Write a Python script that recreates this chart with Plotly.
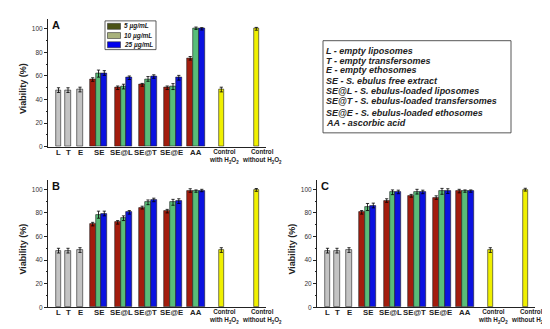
import plotly.graph_objects as go

# ---------------- data ----------------
categories = ["L", "T", "E", "SE", "SE@L", "SE@T", "SE@E", "AA",
              "Control with H2O2", "Control without H2O2"]
concentrations = ["5 µg/mL", "10 µg/mL", "25 µg/mL"]

# empty vesicles (single bars)
empty_cats = ["L", "T", "E"]
empty_A = [48, 48, 48.5]
empty_B = [48, 48, 48.5]
empty_C = [48, 48, 48.5]
empty_err = [2, 2, 2]

# treated groups: rows = SE, SE@L, SE@T, SE@E, AA ; columns = 5, 10, 25 µg/mL
group_cats = ["SE", "SE@L", "SE@T", "SE@E", "AA"]
c5_A = [57, 50, 52.5, 50, 75]
c10_A = [62, 51, 57.5, 51, 100.5]
c25_A = [62.5, 58.5, 59.5, 58.5, 100]
c5_B = [70.5, 72, 84.5, 81.5, 99]
c10_B = [78.5, 75.5, 89, 89, 98.5]
c25_B = [79.5, 80.5, 91, 90, 99]
c5_C = [80.5, 90.5, 94.5, 93, 98.5]
c10_C = [85, 97.5, 98, 98.3, 98.5]
c25_C = [86.3, 97.8, 97.8, 98.5, 98.5]
err5 = [1.5, 1.5, 1.2, 1.5, 1.5]
err10 = [3, 2, 2, 2.5, 1]
err25 = [2, 1.5, 1.5, 2, 1]

control_cats = ["Control with H2O2", "Control without H2O2"]
ctrl_A = [48.5, 100]
ctrl_B = [48.5, 99.5]
ctrl_C = [48.5, 99.7]
ctrl_err = [2, 1.2]

abbrev_lines = [
    "L - empty liposomes",
    "T - empty transfersomes",
    "E - empty ethosomes",
    "SE - S. ebulus free extract",
    "SE@L - S. ebulus-loaded liposomes",
    "SE@T - S. ebulus-loaded transfersomes",
    "SE@E - S. ebulus-loaded ethosomes",
    "AA - ascorbic acid",
]

# ---------------- layout constants ----------------
W, H = 550, 329
FONT = "Arial, Liberation Sans, sans-serif"
pos = {"L": 10.5, "T": 20, "E": 32, "SE": 50.5, "SE@L": 75.5, "SE@T": 100,
       "SE@E": 125, "AA": 148, "Control with H2O2": 173.3, "Control without H2O2": 208.3}
label_pos = dict(pos)
label_pos["SE@L"] = 73.5
label_pos["SE@T"] = 97.5
label_pos["SE@E"] = 123.5
label_pos["Control with H2O2"] = 175.5
label_pos["Control without H2O2"] = 213.5
BW = 5.8
col_gray = "#c3c3c3"
col_red = "#a31d0e"
col_green = "#58bd78"
col_blue = "#0b12e0"
col_yellow = "#f0f000"
leg_colors = ["#4a5216", "#a9b27c", "#0000ee"]


def px_x(x):
    return x / W


def px_y(y):
    return 1 - y / H


panels = [
    dict(name="A", xd=(40, 258), yd=(11.5, 140), vals=(empty_A, c5_A, c10_A, c25_A, ctrl_A)),
    dict(name="B", xd=(40, 258), yd=(173.5, 302), vals=(empty_B, c5_B, c10_B, c25_B, ctrl_B)),
    dict(name="C", xd=(309, 527), yd=(173.5, 302), vals=(empty_C, c5_C, c10_C, c25_C, ctrl_C)),
]

fig = go.Figure()
annotations = []
shapes = []


def tick_label(c):
    if c.startswith("Control"):
        second = c.replace("Control ", "").replace("H2O2", "H<sub>2</sub>O<sub>2</sub>")
        return f"<b>Control</b><br><b>{second}</b>"
    return f"<b>{c}</b>"


err_style = dict(type="data", thickness=0.8, width=1.6, color="black")
line_style = dict(color="#202020", width=0.6)

for i, p in enumerate(panels):
    sfx = "" if i == 0 else str(i + 1)
    xa, ya = "x" + sfx, "y" + sfx
    emp, v5, v10, v25, ctl = p["vals"]
    # empty vesicles
    fig.add_trace(go.Bar(x=[pos[c] for c in empty_cats], y=emp, width=BW,
                         marker=dict(color=col_gray, line=line_style),
                         error_y=dict(array=empty_err, **err_style),
                         xaxis=xa, yaxis=ya, showlegend=False))
    # groups
    for off, vals, errs, col in [(-BW, v5, err5, col_red), (0, v10, err10, col_green),
                                 (BW, v25, err25, col_blue)]:
        fig.add_trace(go.Bar(x=[pos[c] + off for c in group_cats], y=vals, width=BW,
                             marker=dict(color=col, line=line_style),
                             error_y=dict(array=errs, **err_style),
                             xaxis=xa, yaxis=ya, showlegend=False))
    # controls
    fig.add_trace(go.Bar(x=[pos[c] for c in control_cats], y=ctl, width=5.2,
                         marker=dict(color=col_yellow, line=line_style),
                         error_y=dict(array=ctrl_err, **err_style),
                         xaxis=xa, yaxis=ya, showlegend=False))

    x0, x1 = p["xd"]
    y0, y1 = p["yd"]
    xkey = "xaxis" + sfx
    ykey = "yaxis" + sfx
    fig.update_layout(**{
        xkey: dict(domain=[px_x(x0), px_x(x1)], range=[0, x1 - x0], anchor=ya,
                   showline=True, linecolor="#222", linewidth=1, ticks="",
                   showticklabels=False,
                   showgrid=False, zeroline=False, fixedrange=True),
        ykey: dict(domain=[px_y(y1), px_y(y0)], range=[0, (y1 - y0) / 1.19], anchor=xa,
                   showline=True, linecolor="#222", linewidth=1,
                   ticks="outside", ticklen=3, tickwidth=0.8, tickcolor="#222",
                   tickvals=[0, 20, 40, 60, 80, 100],
                   minor=dict(ticks="outside", ticklen=1.5, tickvals=[10, 30, 50, 70, 90],
                              tickcolor="#222", tickwidth=0.6),
                   tickfont=dict(family=FONT, size=6.5, color="#333"),
                   showgrid=False, zeroline=False, fixedrange=True),
    })
    # x category labels
    for c in categories:
        is_ctrl = c.startswith("Control")
        annotations.append(dict(text=tick_label(c), x=label_pos[c], y=0,
                                xref=xa, yref=ya, xanchor="center", yanchor="top",
                                yshift=1, showarrow=False,
                                font=dict(family=FONT, size=6.3 if is_ctrl else 7.8, color="#222")))
    # panel letter
    annotations.append(dict(text=f"<b>{p['name']}</b>", x=px_x(x0 + 8), y=px_y(y0 + 6),
                            xref="paper", yref="paper", xanchor="center", yanchor="middle",
                            showarrow=False, font=dict(family=FONT, size=11, color="#111")))
    # y title
    annotations.append(dict(text="<b>Viability (%)</b>", x=px_x(x0 - 25), y=px_y((y0 + y1) / 2 + 6),
                            xref="paper", yref="paper", xanchor="center", yanchor="middle",
                            textangle=-90, showarrow=False,
                            font=dict(family=FONT, size=9, color="#222")))

# concentration legend (inside panel A)
shapes.append(dict(type="rect", xref="paper", yref="paper", x0=px_x(97), x1=px_x(148),
                   y0=px_y(42), y1=px_y(13), line=dict(color="#333", width=0.8)))
for k, (lab, col) in enumerate(zip(concentrations, leg_colors)):
    yc = 18.5 + k * 9.3
    shapes.append(dict(type="rect", xref="paper", yref="paper", x0=px_x(99.5), x1=px_x(112.5),
                       y0=px_y(yc + 3), y1=px_y(yc - 3), fillcolor=col,
                       line=dict(color="#333", width=0.6)))
    annotations.append(dict(text=f"<b><i>{lab}</i></b>", x=px_x(114), y=px_y(yc),
                            xref="paper", yref="paper", xanchor="left", yanchor="middle",
                            showarrow=False, font=dict(family=FONT, size=6.5, color="#222")))

# abbreviation box
shapes.append(dict(type="rect", xref="paper", yref="paper", x0=px_x(315), x1=px_x(503),
                   y0=px_y(126), y1=px_y(33), line=dict(color="#444", width=0.9)))
line_y = [43, 53, 63, 73.5, 84, 94, 106, 116.5]
for t, yy in zip(abbrev_lines, line_y):
    annotations.append(dict(text=f"<b><i>{t}</i></b>", x=px_x(316), y=px_y(yy),
                            xref="paper", yref="paper", xanchor="left", yanchor="middle",
                            showarrow=False, font=dict(family=FONT, size=9, color="#222")))

fig.update_layout(width=W, height=H, margin=dict(l=0, r=0, t=0, b=0),
                  paper_bgcolor="white", plot_bgcolor="white",
                  barmode="overlay", bargap=0, showlegend=False,
                  annotations=annotations, shapes=shapes,
                  font=dict(family=FONT))

fig.write_html("out.html", config={"displayModeBar": False})
